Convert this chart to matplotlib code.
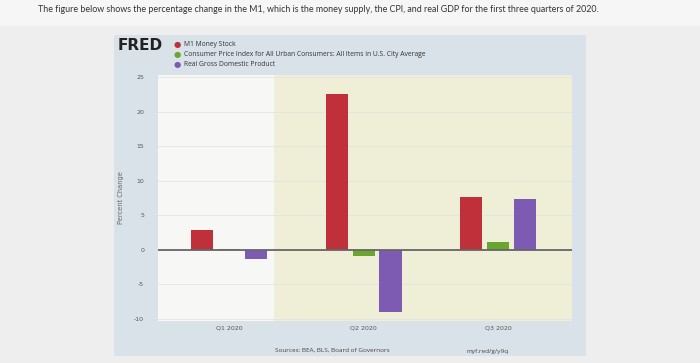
import matplotlib

matplotlib.use("Agg")
import matplotlib.pyplot as plt
from matplotlib.patches import Rectangle

# percent change
quarters = ["Q1 2020", "Q2 2020", "Q3 2020"]
m1 = [2.9, 22.6, 7.6]
cpi = [0.1, -0.9, 1.1]
gdp = [-1.3, -9.0, 7.3]
series_names = [
    "M1 Money Stock",
    "Consumer Price Index for All Urban Consumers: All Items in U.S. City Average",
    "Real Gross Domestic Product",
]
yticks = [-10, -5, 0, 5, 10, 15, 20, 25]

COLORS = ["#c0303a", "#6aa62e", "#7d5bb2"]
W, H = 700, 363


def fx(px):
    return px / W


def fy(py):
    return 1 - py / H


fig = plt.figure(figsize=(7.0, 3.63), dpi=100)
fig.patch.set_facecolor("#eeeeee")

# white strip behind the question text
fig.patches.append(Rectangle((0, fy(26)), 1, 26 / H, transform=fig.transFigure,
                             fc="#f6f6f6", ec="none", zorder=-2))
# FRED panel
fig.patches.append(Rectangle((fx(114), fy(356)), fx(586 - 114), (356 - 35) / H,
                             transform=fig.transFigure, fc="#d9e2e9", ec="none", zorder=-2))

fig.text(fx(38), fy(10), "The figure below shows the percentage change in the M1, which is the "
         "money supply, the CPI, and real GDP for the first three quarters of 2020.",
         family="Lato", fontsize=6.4, color="#333333", va="center", ha="left")

ax = fig.add_axes([fx(158), fy(321), fx(572 - 158), (321 - 75) / H])
ax.set_facecolor("#f7f7f5")
x = list(range(len(quarters)))
ax.set_xlim(-0.53, 2.55)
ax.set_ylim(-10.3, 25.3)

# recession shading
ax.axvspan(0.335, 2.55, color="#eeefd6", zorder=0, lw=0)
for t in yticks:
    ax.axhline(t, color="#e4e4e0", lw=0.6, zorder=0.5)

width = 0.165
for i, (vals, c) in enumerate(zip([m1, cpi, gdp], COLORS)):
    ax.bar([q + (i - 1) * 0.2 for q in x], vals, width=width, color=c, zorder=2)
ax.axhline(0, color="#666666", lw=1.3, zorder=3)

ax.set_yticks(yticks)
ax.set_yticklabels([str(t) for t in yticks])
ax.set_xticks(x)
ax.set_xticklabels(quarters)
ax.tick_params(length=0, labelsize=4.5, labelcolor="#555555", pad=3)
ax.tick_params(axis="y", pad=10)
for s in ax.spines.values():
    s.set_visible(False)
ax.set_ylabel("Percent Change", fontsize=4.8, color="#666666", labelpad=7)

# header: FRED logo + legend
fig.text(fx(118), fy(46), "FRED", fontsize=11, fontweight="bold", color="#222222",
         va="center", ha="left", family="DejaVu Sans")
for i, (name, c) in enumerate(zip(series_names, COLORS)):
    yy = fy(45 + i * 9.5)
    fig.text(fx(174), yy, "\u25CF", fontsize=6, color=c, va="center", ha="left")
    fig.text(fx(184), yy, name, fontsize=4.9, color="#333333", va="center", ha="left",
             family="Open Sans")

fig.text(fx(332), fy(350), "Sources: BEA, BLS, Board of Governors", fontsize=4.6,
         color="#444444", ha="center", va="center", family="Open Sans")
fig.text(fx(488), fy(352), "myf.red/g/y9q", fontsize=4.6, color="#444444",
         ha="center", va="center", family="Open Sans")

fig.savefig("out.png", dpi=100)
